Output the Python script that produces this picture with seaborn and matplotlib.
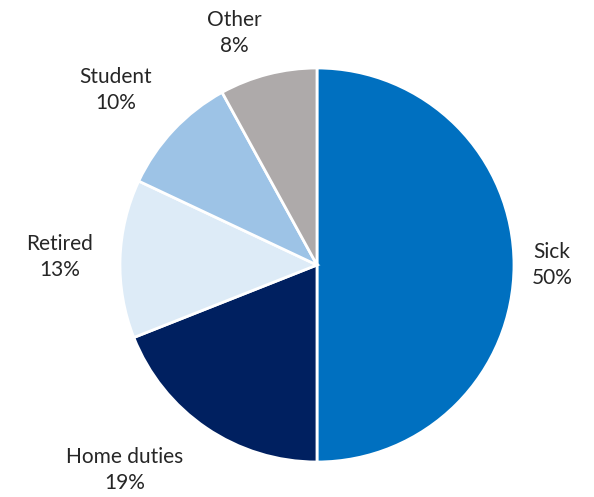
import matplotlib
matplotlib.use('Agg')
import matplotlib.pyplot as plt
import seaborn as sns

# data
categories = ['Sick', 'Home duties', 'Retired', 'Student', 'Other']
shares = [50, 19, 13, 10, 8]
colors = ['#0070C0', '#002060', '#DDEBF7', '#9DC3E6', '#AEAAAA']

# label placement (in pie-radius units), Excel puts them a bit off the radial line
label_xy = [(1.193, 0.0), (-0.975, -1.041), (-1.305, 0.041), (-1.023, 0.888), (-0.421, 1.178)]

sns.set_style('white')
plt.rcParams['font.family'] = ['Lato', 'DejaVu Sans']

fig = plt.figure(figsize=(5.94, 4.97), dpi=100)
# place the pie so its centre / radius match the reference
ax = fig.add_axes([0.202, 0.0704, 0.6633, 0.7928])

labels = [f'{c}\n{v}%' for c, v in zip(categories, shares)]
wedges, texts = ax.pie(shares, colors=colors, startangle=90, counterclock=False,
                       labels=labels, labeldistance=1.2,
                       wedgeprops=dict(edgecolor='white', linewidth=2),
                       textprops=dict(fontsize=15, color='#262626', ha='center',
                                      va='center', linespacing=1.4))
for t, xy in zip(texts, label_xy):
    t.set_position(xy)
    t.set_ha('center')

ax.set_xlim(-1, 1)
ax.set_ylim(-1, 1)
ax.set_aspect('equal')
ax.axis('off')

fig.savefig('out.png', dpi=100)
